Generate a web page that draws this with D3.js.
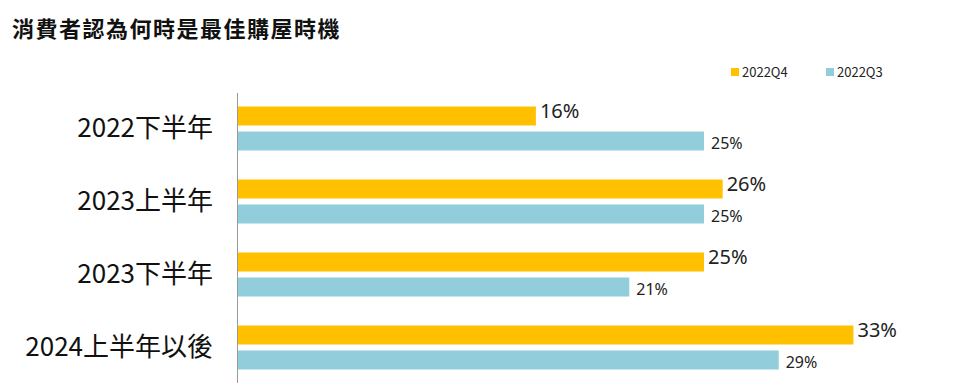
<!DOCTYPE html>
<html><head><meta charset="utf-8">
<script src="https://cdn.jsdelivr.net/npm/d3@7"></script>
<style>body{margin:0;background:#fff}svg{display:block}</style>
</head><body>
<svg id="c" width="960" height="387"></svg>
<script>
const title = "消費者認為何時是最佳購屋時機";
const categories = ["2022下半年","2023上半年","2023下半年","2024上半年以後"];
const seriesNames = ["2022Q4","2022Q3"];
const q4 = [16,26,25,33];
const q3 = [25,25,21,29];
const colors = ["#FFC000","#92CDDC"];

const svg = d3.select("#c");
const font = "'Noto Sans CJK TC','Noto Sans',sans-serif";
svg.append("rect").attr("width",960).attr("height",387).attr("fill","#fff");

svg.append("text").attr("x",12).attr("y",37).text(title)
  .attr("font-family",font).attr("font-weight","bold").attr("font-size",22)
  .attr("letter-spacing",1.5).attr("fill","#111");

const x = d3.scaleLinear().domain([0,25]).range([237,704]);
const y0 = d3.scaleBand().domain(categories).range([92,384]);
const y1 = d3.scaleBand().domain(seriesNames).range([0,y0.bandwidth()]).paddingInner(0.24).paddingOuter(0.58);

const data = categories.map((c,i)=>({cat:c, vals:[{s:seriesNames[0],v:q4[i]},{s:seriesNames[1],v:q3[i]}]}));

const g = svg.selectAll("g.grp").data(data).join("g").attr("transform",d=>`translate(0,${y0(d.cat)})`);
g.selectAll("rect").data(d=>d.vals).join("rect")
  .attr("x",x(0)).attr("y",d=>y1(d.s)).attr("height",y1.bandwidth())
  .attr("width",d=>x(d.v)-x(0)).attr("fill",(d,i)=>colors[i]);
g.selectAll("text.val").data(d=>d.vals).join("text").attr("class","val")
  .attr("x",(d,i)=>x(d.v)+(i===0?4:7))
  .attr("y",(d,i)=>i===0? y1(d.s)+11.5 : y1(d.s)+y1.bandwidth()-1.5)
  .attr("font-family","'Noto Sans',sans-serif").attr("font-size",(d,i)=>i===0?20:16).attr("fill","#222")
  .text(d=>d.v+"%");

// category labels
svg.append("g").attr("transform","translate(237,0)")
  .call(d3.axisLeft(y0).tickSize(0).tickPadding(24))
  .call(a=>a.select(".domain").remove())
  .selectAll("text").attr("font-family",font).attr("font-size",26).attr("fill","#111");

svg.append("line").attr("x1",237.5).attr("x2",237.5).attr("y1",93).attr("y2",383)
  .attr("stroke","#9a9a9a").attr("stroke-width",1);

// legend
const leg = svg.append("g");
const lx = [731,826];
seriesNames.forEach((s,i)=>{
  leg.append("rect").attr("x",lx[i]).attr("y",68).attr("width",8).attr("height",8).attr("fill",colors[i]);
  leg.append("text").attr("x",lx[i]+11).attr("y",77).text(s)
    .attr("font-family",font).attr("font-size",13).attr("fill","#222");
});
</script>
</body></html>
